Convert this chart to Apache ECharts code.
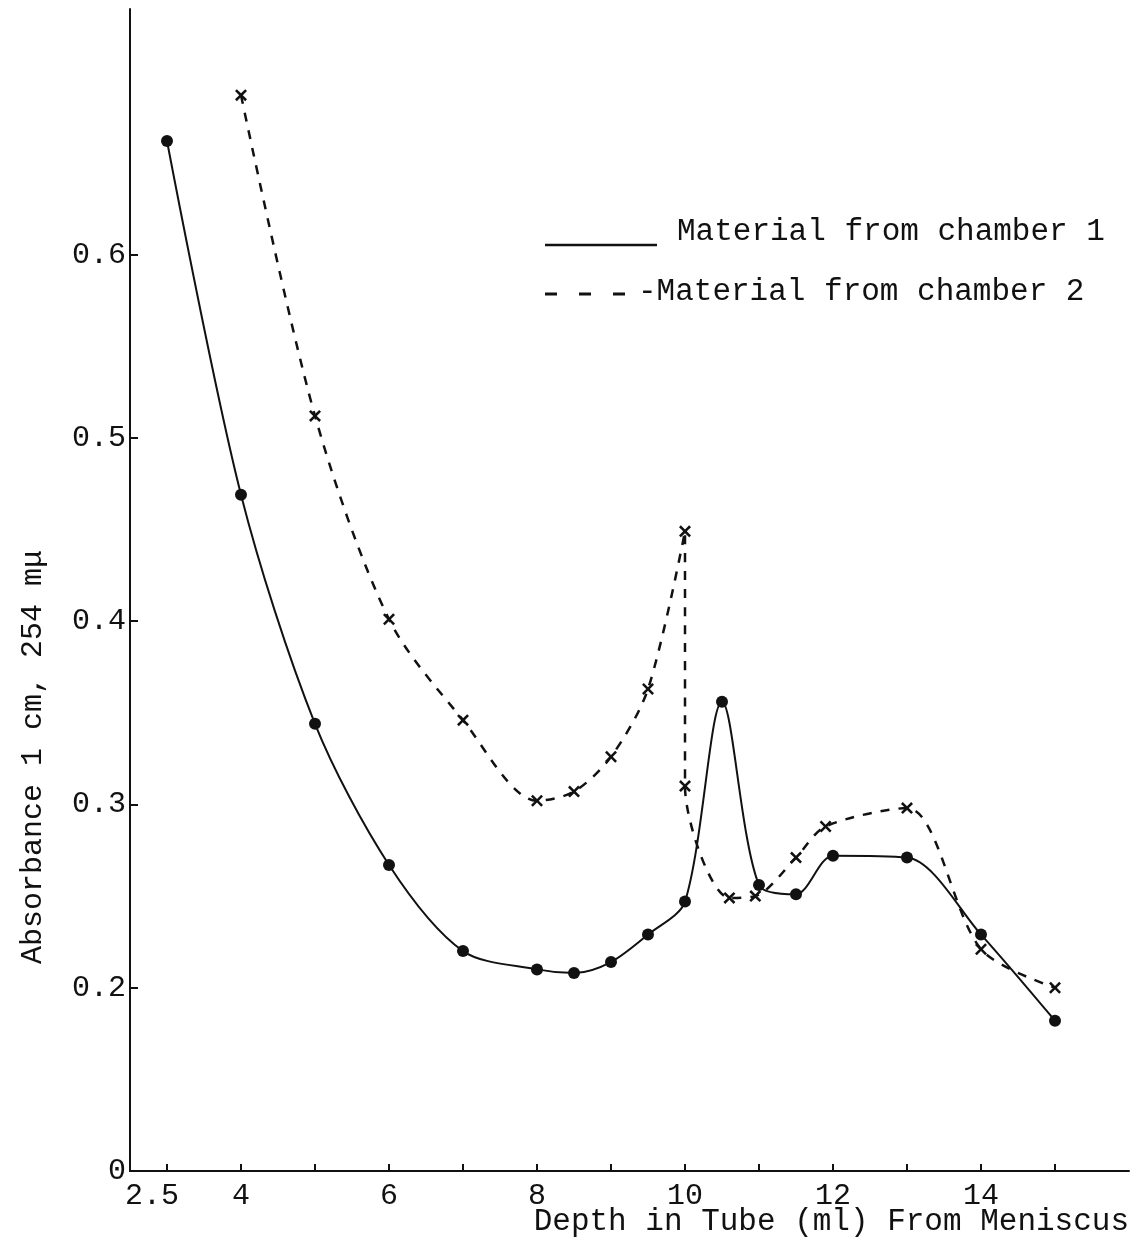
<!DOCTYPE html>
<html>
<head>
<meta charset="utf-8">
<style>
  html, body { margin: 0; padding: 0; background: #fff; }
  #chart { width: 1136px; height: 1242px; }
</style>
<script src="https://cdn.jsdelivr.net/npm/echarts@6/dist/echarts.min.js"></script>
</head>
<body>
<div id="chart"></div>
<script>
// chamber 1 (solid line, dots)
var chamber1X = [3, 4, 5, 6, 7, 8, 8.5, 9, 9.5, 10, 10.5, 11, 11.5, 12, 13, 14, 15];
var chamber1Y = [0.662, 0.469, 0.344, 0.267, 0.220, 0.210, 0.208, 0.214, 0.229, 0.247, 0.356, 0.256, 0.251, 0.272, 0.271, 0.229, 0.182];
// chamber 2 (dashed line, crosses)
var chamber2X = [4, 5, 6, 7, 8, 8.5, 9, 9.5, 10, 10, 10.6, 10.95, 11.5, 11.9, 13, 14, 15];
var chamber2Y = [0.687, 0.512, 0.401, 0.346, 0.302, 0.307, 0.326, 0.363, 0.449, 0.310, 0.249, 0.250, 0.271, 0.288, 0.298, 0.221, 0.200];

var xTickValues = [3, 4, 5, 6, 7, 8, 9, 10, 11, 12, 13, 14, 15];
var xLabelValues = [3, 4, 6, 8, 10, 12, 14];
var xLabelTexts = ['2.5', '4', '6', '8', '10', '12', '14'];
var yTickValues = [0.1, 0.2, 0.3, 0.4, 0.5, 0.6];
var yLabelTexts = ['0', '0.2', '0.3', '0.4', '0.5', '0.6'];

var seriesNames = ['Material from chamber 1', 'Material from chamber 2'];

var ink = '#111';
var font = 'Liberation Mono';
var fontCss = '31px "' + font + '"';

var chart = echarts.init(document.getElementById('chart'));

function pairs(xs, ys) {
  return xs.map(function (x, i) { return [x, ys[i]]; });
}
function lookup(values, texts, v) {
  for (var i = 0; i < values.length; i++) {
    if (Math.abs(values[i] - v) < 1e-6) return texts[i];
  }
  return '';
}

// small X shaped marker
var crossPath = 'path://M1.5,0L5,3.5L8.5,0L10,1.5L6.5,5L10,8.5L8.5,10L5,6.5L1.5,10L0,8.5L3.5,5L0,1.5Z';

var option = {
  backgroundColor: '#fff',
  animation: false,
  grid: { left: 130, right: 7, top: 9, bottom: 71 },
  xAxis: {
    type: 'value',
    min: 2.5,
    max: 16,
    axisLine: { show: true, lineStyle: { color: ink, width: 2 } },
    axisTick: {
      show: true, inside: true, length: 7,
      customValues: xTickValues,
      lineStyle: { color: ink, width: 2 }
    },
    axisLabel: {
      customValues: xLabelValues,
      formatter: function (v) {
        var t = lookup(xLabelValues, xLabelTexts, v);
        // the first label sits a little left of its tick
        return v === xLabelValues[0] ? '{first|' + t + '}' : t;
      },
      rich: { first: { padding: [0, 30, 0, 0], fontFamily: font, fontSize: 30, color: ink } },
      color: ink, fontFamily: font, fontSize: 30, margin: 10
    },
    splitLine: { show: false }
  },
  yAxis: {
    type: 'value',
    min: 0.1,
    max: 0.734,
    axisLine: { show: true, lineStyle: { color: ink, width: 2 } },
    axisTick: {
      show: true, inside: true, length: 8,
      customValues: yTickValues,
      lineStyle: { color: ink, width: 2 }
    },
    axisLabel: {
      customValues: yTickValues,
      formatter: function (v) { return lookup(yTickValues, yLabelTexts, v); },
      color: ink, fontFamily: font, fontSize: 30, margin: 4
    },
    splitLine: { show: false }
  },
  graphic: [
    // axis titles
    {
      type: 'text', x: 33, y: 757, rotation: Math.PI / 2,
      style: {
        text: 'Absorbance 1 cm, 254 mμ', fill: ink,
        font: '30px "' + font + '"', align: 'center', verticalAlign: 'middle'
      }
    },
    {
      type: 'text', x: 1129, y: 1222,
      style: {
        text: 'Depth in Tube (ml) From Meniscus', fill: ink,
        font: fontCss, align: 'right', verticalAlign: 'middle'
      }
    },
    // legend
    {
      type: 'line', shape: { x1: 545, y1: 245, x2: 657, y2: 245 },
      style: { stroke: ink, lineWidth: 2.5 }
    },
    {
      type: 'text', x: 677, y: 232,
      style: { text: seriesNames[0], fill: ink, font: fontCss, verticalAlign: 'middle' }
    },
    {
      type: 'line', shape: { x1: 545, y1: 294, x2: 626, y2: 294 },
      style: { stroke: ink, lineWidth: 3, lineDash: [12, 22] }
    },
    {
      type: 'text', x: 638, y: 292,
      style: { text: '-' + seriesNames[1], fill: ink, font: fontCss, verticalAlign: 'middle' }
    }
  ],
  series: [
    {
      name: seriesNames[0],
      type: 'line',
      smooth: 0.3,
      data: pairs(chamber1X, chamber1Y),
      symbol: 'circle',
      symbolSize: 12,
      itemStyle: { color: ink },
      lineStyle: { color: ink, width: 2 }
    },
    {
      name: seriesNames[1],
      type: 'line',
      smooth: 0.3,
      data: pairs(chamber2X, chamber2Y),
      symbol: crossPath,
      symbolSize: 12,
      itemStyle: { color: ink },
      lineStyle: { color: ink, width: 2.5, type: [9, 9] }
    }
  ]
};

chart.setOption(option);
</script>
</body>
</html>
